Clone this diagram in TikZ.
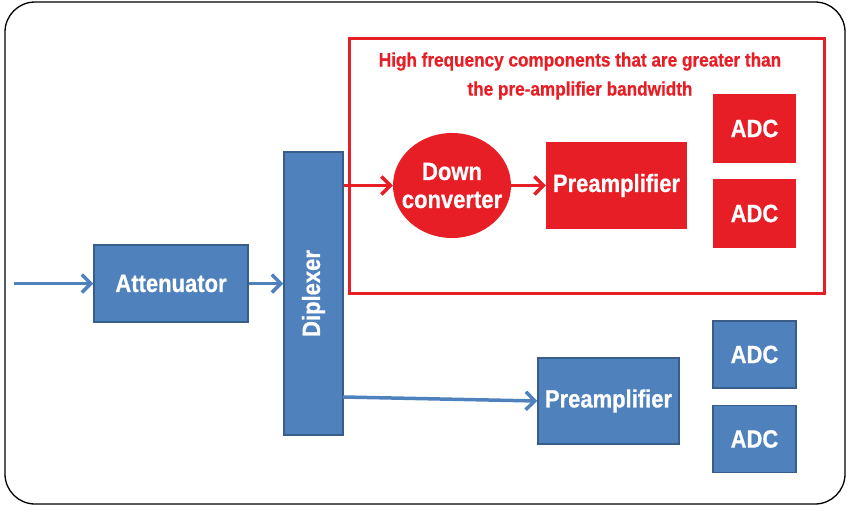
\documentclass[tikz,border=0pt]{standalone}
\usepackage{fontspec}
\setmainfont[FakeStretch=0.88, BoldFeatures={FakeBold=0.6}]{Liberation Sans}
\usetikzlibrary{positioning, arrows.meta, shapes.geometric}

\definecolor{blockblue}{RGB}{79,129,189}
\definecolor{edgeblue}{RGB}{56,93,138}
\definecolor{sigred}{RGB}{232,30,38}

\begin{document}
\begin{tikzpicture}[
            x=1pt, y=-1pt,
            >={Straight Barb[length=9pt,width=18pt]},
            font=\fontsize{25}{28}\selectfont\bfseries,
            blueblock/.style={draw=edgeblue, line width=1.5pt, fill=blockblue, text=white, inner sep=0pt, align=center},
            redblock/.style={fill=sigred, text=white, inner sep=0pt, align=center},
            mixer/.style={ellipse, fill=sigred, inner sep=0pt},
            hfframe/.style={draw=sigred, line width=3pt, inner sep=0pt},
            bluewire/.style={->, draw=blockblue, line width=3.5pt},
            redwire/.style={->, draw=sigred, line width=3.5pt},
        ]
            \useasboundingbox (0,0) rectangle (847,506);
            % outer frame
            \draw[line width=1.3pt, rounded corners=30pt] (5,2) rectangle (845,504);

            % input chain
            \coordinate (in) at (14,283.5);
            \node[blueblock, minimum width=154pt, minimum height=77pt] (att) at (171,283.5) {Attenuator};
            \node[blueblock, minimum width=59pt, minimum height=283pt] (dip) at (313.5,293.5) {\rotatebox{90}{Diplexer}};

            % high frequency branch
            \node[hfframe, minimum width=475pt, minimum height=255pt] (hf) at (586.5,165.5) {};
            \node[text=sigred, font=\fontsize{19.5}{29}\selectfont\bfseries, align=center] (hftext) at (580,76)
                {High frequency components that are greater than\\the pre-amplifier bandwidth};
            \node[mixer, minimum width=118pt, minimum height=105pt,
                  label={[text=white, align=center]center:Down\\converter}] (dc) at (452,185.5) {};
            \node[redblock, minimum width=141pt, minimum height=87pt] (rpre) at (616.5,185.5) {Preamplifier};
            \foreach \name / \y in {1/128.5, 2/213.5}
                \node[redblock, minimum width=83pt, minimum height=69pt] (radc-\name) at (754.5,\y) {ADC};

            % low frequency branch
            \coordinate (lowout) at (343,397);
            \node[blueblock, minimum width=141pt, minimum height=86pt] (bpre) at (608.5,401) {Preamplifier};
            \foreach \name / \y in {1/354.5, 2/439}
                \node[blueblock, minimum width=83pt, minimum height=67pt] (badc-\name) at (754.5,\y) {ADC};

            % connections
            \draw[bluewire] (in) -- (att.west);
            \draw[bluewire] (att.east) -- (dip.west |- att.east);
            \draw[redwire] (dip.east |- dc.west) -- (dc.west);
            \draw[redwire] (dc.east) -- (rpre.west);
            \draw[bluewire] (lowout) -- (bpre.west);
        \end{tikzpicture}
\end{document}
